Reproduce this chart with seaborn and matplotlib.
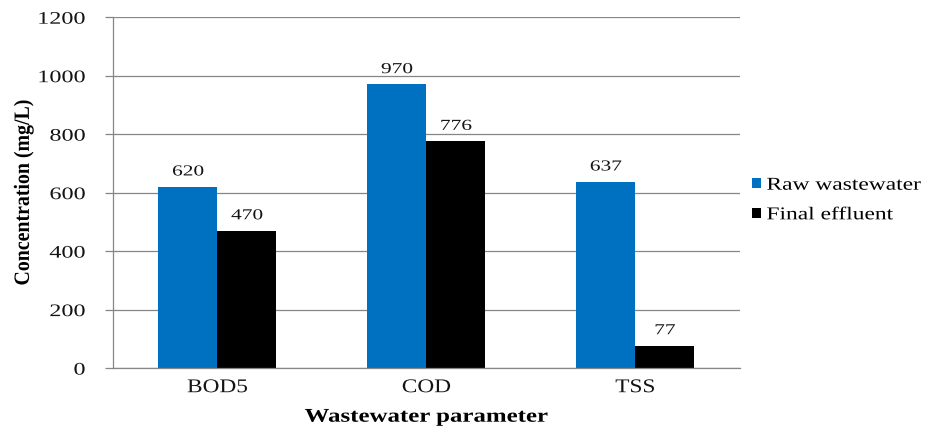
import matplotlib
matplotlib.use("Agg")
import matplotlib.pyplot as plt
import matplotlib.patheffects as pe
from matplotlib.transforms import Affine2D
import seaborn as sns
import pandas as pd
import numpy as np

categories = ["BOD5", "COD", "TSS"]
raw_wastewater = [620, 970, 637]
final_effluent = [470, 776, 77]
series_names = ["Raw wastewater", "Final effluent"]
colors = ["#0070C0", "#000000"]
y_ticks = [0, 200, 400, 600, 800, 1000, 1200]

df = pd.DataFrame({
    "parameter": categories * 2,
    "value": raw_wastewater + final_effluent,
    "series": [series_names[0]] * 3 + [series_names[1]] * 3,
})


class StretchX(pe.AbstractPathEffect):
    """Widen a text path horizontally about its left, centre or right edge."""

    def __init__(self, sx, anchor="center"):
        super().__init__()
        self.sx = sx
        self.anchor = anchor

    def draw_path(self, renderer, gc, tpath, affine, rgbFace=None):
        verts = affine.transform(tpath.vertices)
        if len(verts):
            x0, x1 = verts[:, 0].min(), verts[:, 0].max()
            p = {"left": x0, "right": x1}.get(self.anchor, 0.5 * (x0 + x1))
            affine = affine + Affine2D().translate(-p, 0).scale(self.sx, 1).translate(p, 0)
        renderer.draw_path(gc, tpath, affine, rgbFace)


sns.set_theme(style="white")
plt.rcParams["font.family"] = ["Liberation Serif", "DejaVu Serif"]

fig = plt.figure(figsize=(9.34, 4.30), dpi=100)
ax = fig.add_axes([0.121, 0.144, 0.671, 0.816])

sns.barplot(data=df, x="parameter", y="value", hue="series",
            palette=colors, width=0.565, gap=0, ax=ax, saturation=1,
            edgecolor="none", linewidth=0)

grid_c = "#868686"
txt_c = "#141414"
ax.set_ylim(0, 1200)
ax.set_xlim(-0.5, 2.5)
ax.set_yticks(y_ticks)
ax.yaxis.grid(True, color=grid_c, linewidth=0.9)
ax.set_axisbelow(True)
for s in ["top", "right"]:
    ax.spines[s].set_visible(False)
for s in ["left", "bottom"]:
    ax.spines[s].set_color(grid_c)
    ax.spines[s].set_linewidth(0.9)

ax.set_xticks(range(len(categories)))
ax.set_xticklabels(categories, fontsize=14, color=txt_c)
ax.tick_params(axis="x", length=0, pad=8)
ax.set_xticks([-0.5, 0.5, 1.5, 2.5], minor=True)
ax.tick_params(axis="x", which="minor", length=5, color=grid_c, width=0.9, direction="out")
ax.tick_params(axis="y", length=6, color=grid_c, width=0.9, direction="out",
               labelsize=12.7, labelcolor=txt_c, pad=14, left=True)

for lab in ax.get_xticklabels():
    lab.set_path_effects([StretchX(1.2, "center")])
for lab in ax.get_yticklabels():
    lab.set_path_effects([StretchX(1.37, "right")])

ax.set_xlabel("Wastewater parameter", fontsize=14, fontweight="bold",
              labelpad=9, color="#000000")
ax.xaxis.label.set_path_effects([StretchX(1.28, "center")])
ax.set_ylabel("Concentration (mg/L)", fontsize=14.3, fontweight="bold",
              color="#000000")
ax.yaxis.set_label_coords(-0.127, 0.5)
ax.yaxis.label.set_path_effects([StretchX(1.1, "center")])

for cont in ax.containers:
    labels = ax.bar_label(cont, fmt="%d", padding=6, fontsize=11, color=txt_c)
    for t in labels:
        t.set_path_effects([StretchX(1.4, "center")])

handles, labels = ax.get_legend_handles_labels()
leg = fig.legend(handles, labels, loc="center left",
                 bbox_to_anchor=(752 / 934, 1 - 200 / 430),
                 frameon=False, fontsize=13, handlelength=0.5, handleheight=0.5,
                 handletextpad=0.3, labelspacing=0.7, borderpad=0, borderaxespad=0)
for t in leg.get_texts():
    t.set_color("#000000")
    t.set_path_effects([StretchX(1.3, "left")])
if ax.get_legend() is not None:
    ax.get_legend().remove()

fig.savefig("out.png", dpi=100)
